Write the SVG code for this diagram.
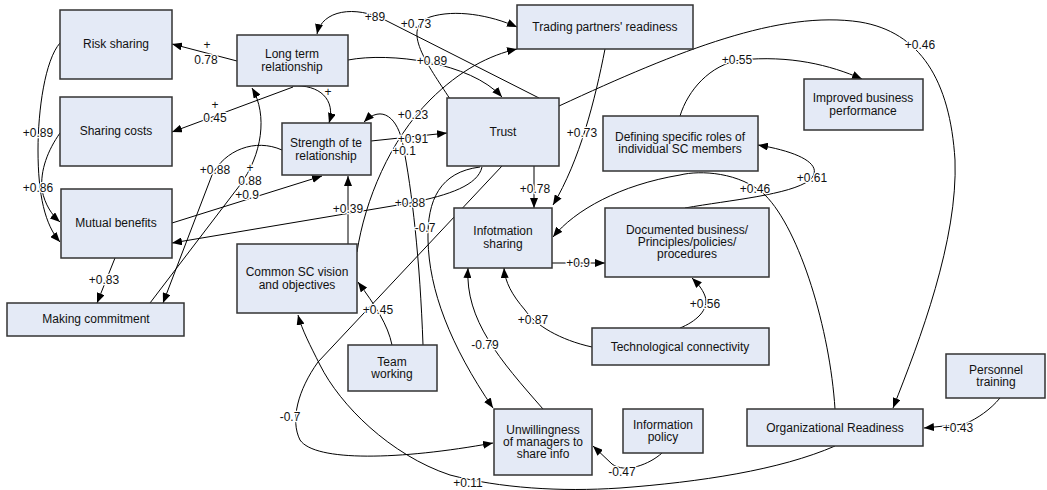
<svg xmlns="http://www.w3.org/2000/svg" width="1047" height="490" viewBox="0 0 1047 490">
<defs>
<marker id="ah" markerWidth="10" markerHeight="8" refX="10" refY="4" orient="auto" markerUnits="userSpaceOnUse">
<path d="M0,0 L10,4 L0,8 z" fill="#000"/>
</marker>
<style>
.n rect{fill:#e4eaf6;stroke:#333;stroke-width:1.5}
.n text{font-family:"Liberation Sans",Arial,sans-serif;font-size:12px;fill:#111;text-anchor:middle}
#edges path{fill:none;stroke:#000;stroke-width:1;marker-end:url(#ah)}
#labels text{font-family:"Liberation Sans",Arial,sans-serif;font-size:12px;fill:#111;text-anchor:middle;paint-order:stroke;stroke:#fff;stroke-width:2.5px;stroke-linejoin:round}
</style>
</defs>
<rect width="1047" height="490" fill="#fff"/>
<g id="edges">
<path d="M237,61 L172,44"/>
<path d="M293,87 L172,132"/>
<path d="M292,86 C320,84 336,100 329,123"/>
<path d="M348,60 C390,52 470,62 502,97"/>
<path d="M539,98 L385,20 C355,5 322,10 317,34"/>
<path d="M450,99 C428,65 400,28 430,17 C455,9 490,15 517,27"/>
<path d="M357,252 C365,200 390,140 430,100 C460,70 490,55 517,49"/>
<path d="M423,345 C420,260 412,190 403,145 C398,118 382,104 364,122"/>
<path d="M371,141 L447,133"/>
<path d="M282,150 C255,138 225,150 212,175 L163,303"/>
<path d="M150,303 L240,185 C262,155 268,115 252,88"/>
<path d="M172,223 L322,176"/>
<path d="M482,167 C478,185 450,195 410,203 L172,243"/>
<path d="M480,167 C440,172 427,200 428,240 C429,290 450,345 493,408"/>
<path d="M502,166 L318,362 C298,390 290,420 300,440 C315,462 400,460 493,443"/>
<path d="M543,409 C500,360 465,320 468,268"/>
<path d="M592,347 C560,340 535,325 525,310 C512,295 505,282 504,268"/>
<path d="M552,263 L605,263"/>
<path d="M680,328 C695,322 710,310 705,296 C702,288 697,283 692,278"/>
<path d="M534,166 L534,208"/>
<path d="M605,49 C595,100 580,160 553,205"/>
<path d="M559,106 C680,50 780,10 860,22 C920,32 950,80 955,160 C958,240 920,340 893,408"/>
<path d="M680,116 C688,90 710,65 740,60 C790,55 830,65 862,79"/>
<path d="M835,409 C830,330 800,230 765,195 C740,172 700,170 680,175 C620,185 575,210 553,237"/>
<path d="M685,208 C730,200 790,195 810,180 C825,165 800,152 758,145"/>
<path d="M392,345 C388,325 375,305 358,282"/>
<path d="M348,244 L348,176"/>
<path d="M835,446 C780,470 700,482 620,488 C560,492 500,488 450,475 C390,455 340,405 320,365 C310,345 302,330 298,315"/>
<path d="M662,453 C650,464 625,474 612,464 L593,446"/>
<path d="M1000,398 C990,410 978,418 965,424 L924,428"/>
<path d="M115,258 L97,303"/>
<path d="M60,43 C45,60 38,110 38,150 C38,195 45,225 60,242"/>
<path d="M60,133 C48,150 40,170 42,190 C45,205 52,215 60,222"/>
</g>
<g id="labels">
<text x="207" y="49">+</text><text x="206" y="64">0.78</text>
<text x="215" y="109">+</text><text x="215" y="122">0.45</text>
<text x="328" y="96">+</text>
<text x="432" y="65">+0.89</text>
<text x="375" y="21">+89</text>
<text x="416" y="28">+0.73</text>
<text x="413" y="119">+0.23</text>
<text x="413" y="143">+0.91</text>
<text x="404" y="155">+0.1</text>
<text x="215" y="174">+0.88</text>
<text x="250" y="172">+</text><text x="250" y="185">0.88</text>
<text x="247" y="199">+0.9</text>
<text x="348" y="213">+0.39</text>
<text x="410" y="207">+0.88</text>
<text x="425" y="232">-0.7</text>
<text x="535" y="193">+0.78</text>
<text x="582" y="137">+0.73</text>
<text x="920" y="49">+0.46</text>
<text x="737" y="64">+0.55</text>
<text x="812" y="182">+0.61</text>
<text x="755" y="193">+0.46</text>
<text x="578" y="267">+0.9</text>
<text x="705" y="308">+0.56</text>
<text x="533" y="324">+0.87</text>
<text x="378" y="314">+0.45</text>
<text x="485" y="349">-0.79</text>
<text x="290" y="421">-0.7</text>
<text x="468" y="487">+0.11</text>
<text x="622" y="476">-0.47</text>
<text x="958" y="432">+0.43</text>
<text x="104" y="284">+0.83</text>
<text x="38" y="137">+0.89</text>
<text x="38" y="192">+0.86</text>
</g>
<g id="n-risk" class="n"><rect x="60" y="10" width="112" height="69"/><text x="116" y="48">Risk sharing</text></g>
<g id="n-cost" class="n"><rect x="60" y="97" width="112" height="69"/><text x="116" y="135">Sharing costs</text></g>
<g id="n-long" class="n"><rect x="237" y="35" width="111" height="51"/><text x="292" y="58">Long term</text><text x="292" y="71">relationship</text></g>
<g id="n-strength" class="n"><rect x="282" y="123" width="89" height="52"/><text x="326" y="147">Strength of te</text><text x="326" y="160">relationship</text></g>
<g id="n-trust" class="n"><rect x="447" y="98" width="112" height="68"/><text x="503" y="136">Trust</text></g>
<g id="n-trading" class="n"><rect x="517" y="5" width="176" height="44"/><text x="605" y="31">Trading partners' readiness</text></g>
<g id="n-improved" class="n"><rect x="804" y="79" width="119" height="51"/><text x="863" y="102">Improved business</text><text x="863" y="115">performance</text></g>
<g id="n-defining" class="n"><rect x="603" y="116" width="155" height="55"/><text x="680" y="141">Defining specific roles of</text><text x="680" y="153">individual SC members</text></g>
<g id="n-mutual" class="n"><rect x="61" y="189" width="111" height="69"/><text x="116" y="227">Mutual benefits</text></g>
<g id="n-commit" class="n"><rect x="7" y="303" width="177" height="33"/><text x="96" y="323">Making commitment</text></g>
<g id="n-vision" class="n"><rect x="237" y="244" width="120" height="69"/><text x="297" y="276">Common SC vision</text><text x="297" y="289">and objectives</text></g>
<g id="n-info" class="n"><rect x="454" y="208" width="98" height="60"/><text x="503" y="235">Infotmation</text><text x="503" y="248">sharing</text></g>
<g id="n-doc" class="n"><rect x="605" y="208" width="164" height="69"/><text x="687" y="234">Documented business/</text><text x="687" y="246">Principles/policies/</text><text x="687" y="258">procedures</text></g>
<g id="n-tech" class="n"><rect x="592" y="328" width="177" height="37"/><text x="680" y="351">Technological connectivity</text></g>
<g id="n-team" class="n"><rect x="348" y="345" width="89" height="46"/><text x="392" y="366">Team</text><text x="392" y="378">working</text></g>
<g id="n-unwill" class="n"><rect x="494" y="409" width="98" height="66"/><text x="543" y="434">Unwillingness</text><text x="543" y="446">of managers to</text><text x="543" y="458">share info</text></g>
<g id="n-policy" class="n"><rect x="623" y="409" width="80" height="44"/><text x="663" y="429">Information</text><text x="663" y="441">policy</text></g>
<g id="n-org" class="n"><rect x="747" y="409" width="176" height="37"/><text x="835" y="432">Organizational Readiness</text></g>
<g id="n-personnel" class="n"><rect x="946" y="354" width="99" height="44"/><text x="996" y="374">Personnel</text><text x="996" y="386">training</text></g>
</svg>
